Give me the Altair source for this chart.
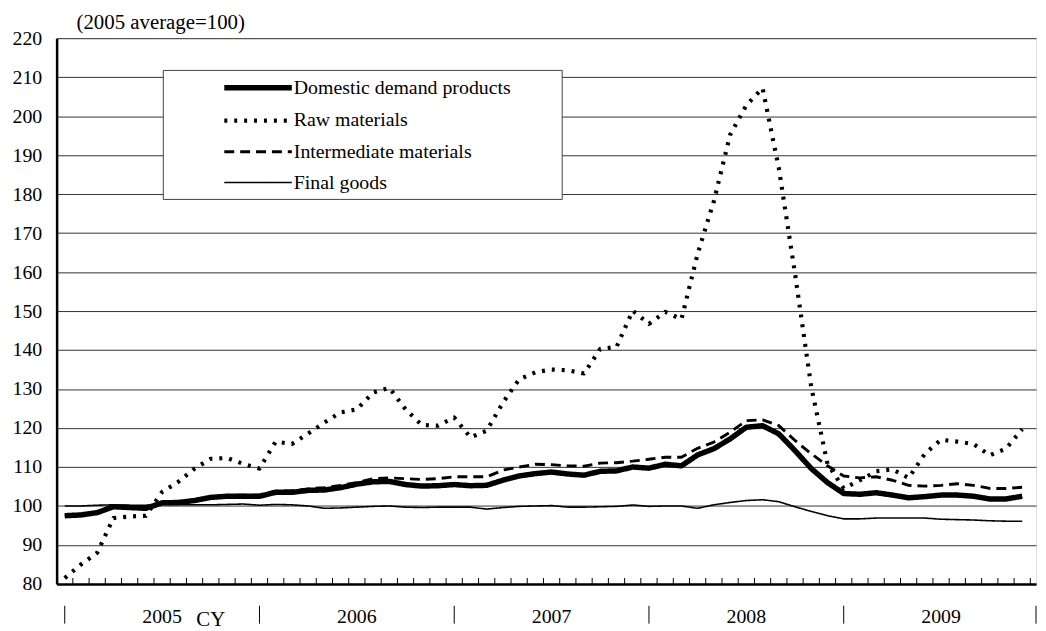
import altair as alt
import pandas as pd

# Monthly index: 0 = Jan 2005 ... 59 = Dec 2009
months = list(range(60))

series_names = ["Domestic demand products", "Raw materials",
                "Intermediate materials", "Final goods"]

domestic = [97.5, 97.7, 98.3, 99.8, 99.6, 99.4, 100.8, 100.9, 101.4, 102.2, 102.5, 102.5,
            102.5, 103.5, 103.5, 104.0, 104.1, 104.7, 105.6, 106.2, 106.3, 105.5, 105.1, 105.2,
            105.5, 105.2, 105.3, 106.6, 107.7, 108.3, 108.7, 108.2, 107.9, 108.9, 109.0, 110.0,
            109.7, 110.7, 110.3, 113.1, 114.7, 117.2, 120.2, 120.6, 118.5, 114.2, 109.6, 106.0,
            103.2, 103.0, 103.4, 102.8, 102.1, 102.4, 102.8, 102.8, 102.5, 101.8, 101.8, 102.5]

raw = [81.5, 85.0, 88.0, 96.9, 97.3, 97.5, 103.6, 106.2, 109.6, 112.1, 112.3, 110.8,
       109.6, 116.5, 115.9, 118.6, 121.4, 124.0, 124.8, 129.1, 130.3, 124.8, 120.8, 120.6,
       122.7, 117.6, 119.3, 126.5, 132.5, 134.3, 135.0, 134.8, 134.0, 140.3, 140.8, 150.1,
       146.7, 149.8, 147.9, 164.7, 178.2, 195.2, 202.8, 207.2, 186.7, 159.6, 130.5, 110.8,
       104.5, 106.6, 108.9, 109.4, 107.2, 113.4, 117.0, 116.5, 115.9, 113.0, 114.7, 119.7]

intermediate = [97.6, 97.9, 98.5, 99.9, 99.7, 99.5, 100.9, 101.0, 101.6, 102.4, 102.7, 102.8,
                102.8, 103.8, 103.9, 104.4, 104.7, 105.3, 106.0, 107.0, 107.2, 107.0, 106.8, 107.0,
                107.5, 107.5, 107.5, 109.2, 110.0, 110.7, 110.6, 110.3, 110.2, 111.0, 111.1, 111.5,
                112.0, 112.5, 112.5, 114.8, 116.4, 118.9, 121.9, 122.1, 120.6, 116.8, 113.4, 110.3,
                107.7, 107.2, 107.5, 106.6, 105.3, 105.1, 105.3, 105.7, 105.3, 104.5, 104.5, 104.8]

final = [100.0, 100.0, 100.2, 100.3, 100.2, 100.2, 100.4, 100.3, 100.3, 100.3, 100.4, 100.5,
         100.2, 100.4, 100.3, 100.0, 99.4, 99.5, 99.7, 99.9, 100.0, 99.7, 99.6, 99.7,
         99.7, 99.7, 99.2, 99.6, 99.9, 100.0, 100.1, 99.7, 99.7, 99.8, 99.9, 100.25,
         99.9, 100.0, 100.0, 99.4, 100.3, 100.9, 101.4, 101.6, 101.1, 99.8, 98.6, 97.5,
         96.7, 96.7, 96.9, 96.9, 96.9, 96.9, 96.6, 96.5, 96.4, 96.2, 96.1, 96.1]

year_labels = ["2005", "2006", "2007", "2008", "2009"]
year_label_pos = [6, 18, 30, 42, 54]
year_sep_pos = [0, 12, 24, 36, 48, 60]
cy_pos = [9]
y_ticks = list(range(80, 221, 10))
month_tick_pos = [k + 0.5 for k in range(60)]
unit_note = "(2005 average=100)"

FONT = "Liberation Serif"

rows = []
for name, vals in zip(series_names, [domestic, raw, intermediate, final]):
    for m, v in zip(months, vals):
        rows.append({"m": m, "v": v, "series": name})
df = pd.DataFrame(rows)

xscale = alt.Scale(domain=[-0.5, 59.85], nice=False, zero=False, clamp=True)

pad_chars = "\u2800" * 3

lines = alt.Chart(df).mark_line(strokeCap="butt", strokeJoin="round").encode(
    x=alt.X("m:Q", scale=xscale,
            axis=alt.Axis(labels=False, ticks=False, grid=False, title=None,
                          domainColor="black", domainWidth=2.5)),
    y=alt.Y("v:Q", scale=alt.Scale(domain=[80, 220], nice=False, zero=False),
            axis=alt.Axis(values=y_ticks, grid=True, gridColor="#333333", gridWidth=1,
                          ticks=False, labelPadding=15, labelFont=FONT, labelFontSize=20,
                          labelColor="black", domainColor="black", domainWidth=2.5,
                          title=None)),
    color=alt.Color("series:N", scale=alt.Scale(domain=series_names, range=["black"] * 4),
                    legend=alt.Legend(title=None, orient="none", legendX=107, legendY=32,
                                      fillColor="white", strokeColor="#444444", padding=6,
                                      rowPadding=10.5, labelFont=FONT, labelFontSize=20,
                                      labelColor="black", labelLimit=600,
                                      symbolType="M-3.78,0H3.78", symbolSize=324,
                                      symbolOffset=78, labelOffset=24,
                                      labelExpr="datum.label + '" + pad_chars + "'")),
    strokeDash=alt.StrokeDash("series:N",
                              scale=alt.Scale(domain=series_names,
                                              range=[[1, 0], [3, 7], [10, 6], [1, 0]])),
    strokeWidth=alt.StrokeWidth("series:N",
                                scale=alt.Scale(domain=series_names,
                                                range=[5.5, 1.6, 2, 1.5])),
)

ticks = alt.Chart(pd.DataFrame({"m": month_tick_pos})).mark_rule(
    color="black", strokeWidth=1).encode(
    x=alt.X("m:Q", scale=xscale), y=alt.value(550), y2=alt.value(544))

years = alt.Chart(pd.DataFrame({"m": year_label_pos, "t": year_labels})).mark_text(
    font=FONT, fontSize=20, baseline="alphabetic", align="center", color="black").encode(
    x=alt.X("m:Q", scale=xscale), y=alt.value(589), text="t:N")

seps = alt.Chart(pd.DataFrame({"m": year_sep_pos})).mark_rule(
    color="black", strokeWidth=1).encode(
    x=alt.X("m:Q", scale=xscale), y=alt.value(572), y2=alt.value(590))

cy = alt.Chart(pd.DataFrame({"m": cy_pos, "t": ["CY"]})).mark_text(
    font=FONT, fontSize=21, baseline="alphabetic", align="center", color="black").encode(
    x=alt.X("m:Q", scale=xscale), y=alt.value(592), text="t:N")

note = alt.Chart(pd.DataFrame({"t": [unit_note]})).mark_text(
    font=FONT, fontSize=21, baseline="alphabetic", align="left", color="black").encode(
    x=alt.value(20), y=alt.value(-9), text="t:N")

chart = alt.layer(lines, ticks, years, seps, cy, note).properties(
    width=987, height=550,
    autosize=alt.AutoSizeParams(type="none"),
    padding={"left": 49, "top": 28, "right": 2, "bottom": 45},
).configure_view(stroke=None).configure_axis(
    labelFont=FONT
).configure(background="white")

chart.save("out.html", embed_options={"renderer": "svg", "actions": False})
